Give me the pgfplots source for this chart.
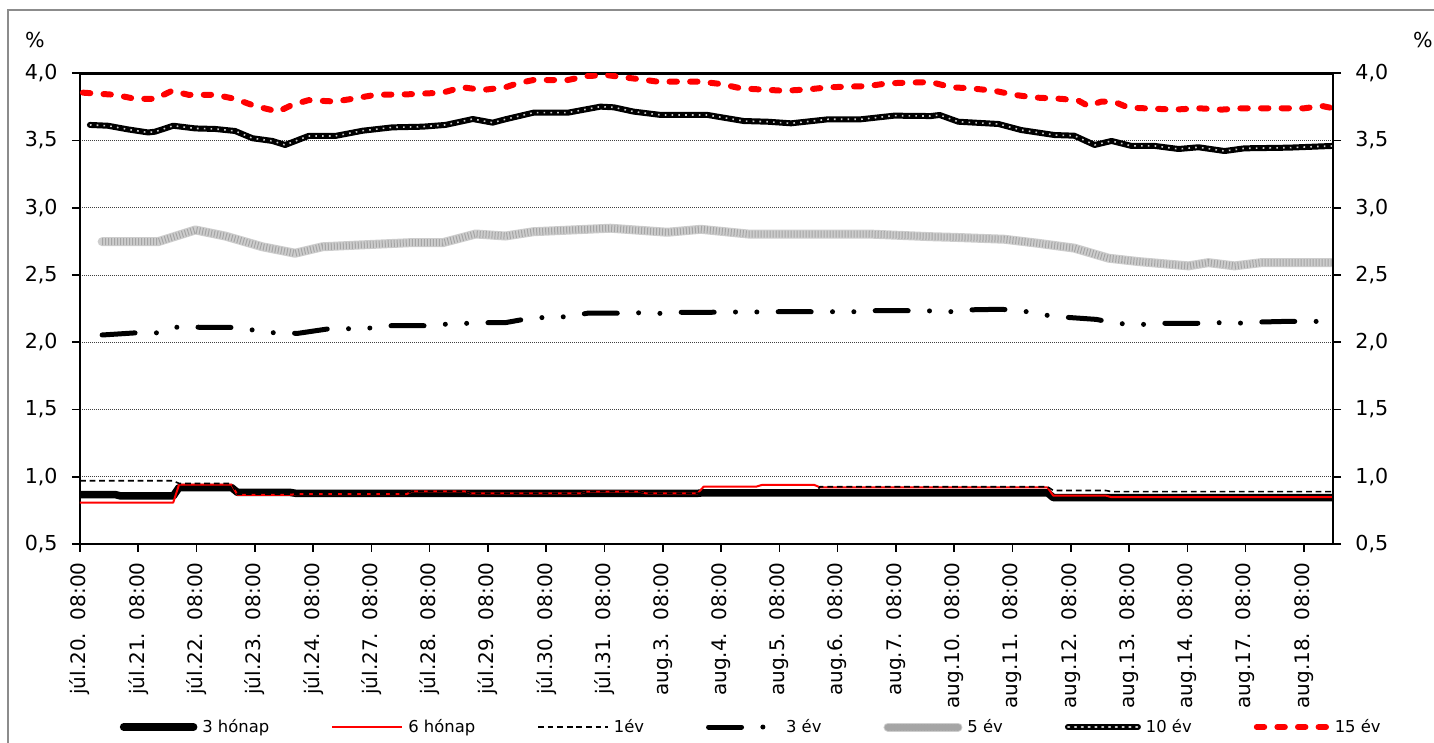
\documentclass[border=0pt]{standalone}
\usepackage{fontspec}
\setmainfont{DejaVu Sans}
\usepackage{pgfplots}
\pgfplotsset{compat=1.18}
\usepackage{pgfplotstable}

\definecolor{xred}{RGB}{255,0,0}
\definecolor{lgray}{RGB}{205,205,205}
\definecolor{mgray}{RGB}{165,165,165}
\definecolor{framegray}{RGB}{140,140,140}

% x: days from the first 08:00 tick (one unit = one trading day)
\pgfplotstableread{
x y
0 0.868
0.6 0.868
0.7 0.857
1.6 0.857
1.7 0.920
2.6 0.920
2.7 0.884
3.6 0.884
3.7 0.877
10.6 0.877
10.7 0.881
16.6 0.881
16.7 0.845
21.5 0.845
}\threem

\pgfplotstableread{
x y
0 0.808
1.6 0.808
1.7 0.942
2.6 0.942
2.7 0.866
3.6 0.866
3.7 0.870
5.6 0.870
5.7 0.892
6.6 0.892
6.7 0.877
8.6 0.877
8.7 0.890
9.6 0.890
9.7 0.877
10.6 0.877
10.7 0.926
11.6 0.926
11.7 0.939
12.6 0.939
12.7 0.921
16.6 0.921
16.7 0.860
17.6 0.860
17.7 0.848
21.5 0.848
}\sixm

\pgfplotstableread{
x y
0 0.970
1.6 0.970
1.7 0.950
2.6 0.950
2.7 0.870
3.6 0.870
3.7 0.872
5.6 0.872
5.7 0.892
6.6 0.892
6.7 0.877
8.6 0.877
8.7 0.890
9.6 0.890
9.7 0.877
10.6 0.877
10.7 0.880
12.6 0.880
12.7 0.926
16.6 0.926
16.7 0.898
17.6 0.898
17.7 0.889
21.5 0.889
}\oney

\pgfplotstableread{
x y
0.38 2.054
0.99 2.071
1.37 2.070
1.72 2.120
2.10 2.110
2.71 2.110
3.06 2.084
3.40 2.067
3.75 2.067
4.33 2.104
4.76 2.099
5.10 2.110
5.30 2.123
5.93 2.123
6.27 2.134
6.65 2.141
7.01 2.146
7.30 2.146
7.61 2.170
7.99 2.186
8.37 2.190
8.71 2.216
9.33 2.216
9.67 2.220
10.05 2.213
10.19 2.223
10.82 2.223
11.17 2.225
11.56 2.225
11.90 2.227
12.54 2.227
13.28 2.227
13.63 2.235
14.26 2.235
14.60 2.233
14.98 2.227
15.12 2.240
15.76 2.245
16.10 2.240
16.46 2.208
16.78 2.190
17.44 2.170
17.78 2.141
18.16 2.130
18.50 2.141
19.16 2.141
19.50 2.146
19.88 2.141
20.02 2.148
20.67 2.155
21.39 2.155
}\threey

\pgfplotstableread{
x y
0.38 2.748
1.34 2.748
1.98 2.835
2.49 2.790
3.13 2.710
3.69 2.662
4.16 2.710
4.78 2.723
5.64 2.740
6.22 2.740
6.79 2.805
7.30 2.790
7.78 2.822
9.10 2.848
10.08 2.818
10.65 2.840
11.46 2.805
13.52 2.805
14.60 2.785
15.00 2.780
15.86 2.766
16.44 2.736
17.06 2.700
17.65 2.625
18.16 2.600
19.02 2.568
19.36 2.592
19.81 2.568
20.27 2.592
21.50 2.592
}\fivey

\pgfplotstableread{
x y
0.17 3.616
0.48 3.610
0.82 3.583
1.17 3.560
1.29 3.566
1.60 3.610
1.98 3.590
2.32 3.586
2.66 3.571
2.96 3.517
3.30 3.497
3.52 3.467
3.92 3.534
4.38 3.534
4.85 3.573
5.36 3.598
5.88 3.603
6.27 3.616
6.74 3.660
7.08 3.633
7.30 3.658
7.78 3.707
8.37 3.707
8.93 3.752
9.16 3.747
9.50 3.715
9.97 3.690
10.77 3.690
11.39 3.645
11.80 3.640
12.20 3.628
12.84 3.658
13.40 3.658
13.97 3.685
14.60 3.682
14.75 3.690
15.07 3.640
15.76 3.623
16.15 3.578
16.72 3.541
17.06 3.536
17.41 3.467
17.70 3.497
18.04 3.460
18.44 3.460
18.85 3.437
19.19 3.450
19.64 3.422
19.98 3.442
20.74 3.447
21.50 3.460
}\teny

\pgfplotstableread{
x y
0.05 3.856
0.60 3.840
0.95 3.810
1.29 3.810
1.58 3.870
1.86 3.840
2.32 3.840
2.66 3.810
3.00 3.757
3.40 3.715
3.64 3.765
3.92 3.800
4.38 3.790
4.67 3.810
5.07 3.840
5.64 3.844
6.22 3.856
6.56 3.896
6.91 3.876
7.30 3.896
7.51 3.926
7.78 3.950
8.37 3.950
8.71 3.980
9.05 3.986
9.33 3.970
9.62 3.955
9.91 3.938
10.65 3.938
11.00 3.920
11.34 3.888
12.08 3.870
12.49 3.880
12.84 3.896
13.52 3.905
13.87 3.926
14.60 3.935
14.95 3.896
15.29 3.888
15.69 3.870
16.03 3.840
16.37 3.820
16.84 3.810
17.13 3.797
17.30 3.757
17.53 3.790
17.75 3.787
17.99 3.745
18.78 3.730
19.19 3.740
19.59 3.730
19.93 3.740
21.01 3.740
21.31 3.757
21.50 3.740
}\fifteeny

\pgfplotsset{
  chartbase/.style={
    scale only axis,
    width=626.5pt, height=235.35pt,
    at={(40pt,99.5pt)}, anchor=south west,
    xmin=0, xmax=21.5,
    ymin=0.5, ymax=4.0,
    ytick={0.5,1.0,...,4.0},
    /pgf/number format/.cd, use comma, fixed, fixed zerofill, precision=1,
    assume math mode=true, /pgfplots/.cd,
    tick align=outside,
    major tick length=4pt,
    tick style={black, line width=0.8pt},
    axis line style={black, line width=1.25pt},
    yticklabel style={inner xsep=0pt, font=\fontsize{10.3}{12}\selectfont},
  },
}

\begin{document}
\begin{tikzpicture}
\path[use as bounding box] (0,0) rectangle (717pt,371.5pt);
\draw[framegray, line width=0.75pt] (4pt,0) -- (4pt,366.5pt) -- (717pt,366.5pt);

\begin{axis}[
  chartbase,
  xtick={0,...,21},
  xticklabels={júl.20.\ \ 08:00, júl.21.\ \ 08:00, júl.22.\ \ 08:00,
    júl.23.\ \ 08:00, júl.24.\ \ 08:00, júl.27.\ \ 08:00, júl.28.\ \ 08:00,
    júl.29.\ \ 08:00, júl.30.\ \ 08:00, júl.31.\ \ 08:00, aug.3.\ \ 08:00,
    aug.4.\ \ 08:00, aug.5.\ \ 08:00, aug.6.\ \ 08:00, aug.7.\ \ 08:00,
    aug.10.\ \ 08:00, aug.11.\ \ 08:00, aug.12.\ \ 08:00, aug.13.\ \ 08:00,
    aug.14.\ \ 08:00, aug.17.\ \ 08:00, aug.18.\ \ 08:00},
  xticklabel style={rotate=90, anchor=east, inner sep=0pt,
    font=\fontsize{10}{12}\selectfont},
  xticklabel shift=5pt,
  yticklabel shift=7pt,
  xtick pos=bottom, ytick pos=left,
  ymajorgrids,
  major grid style={black!75, line width=0.5pt, dash pattern=on 0.5pt off 0.5pt},
  no markers,
  every axis plot/.append style={line join=round},
  legend image code/.code={\draw[#1] (0pt,0pt) -- (35pt,0pt);},
  legend columns=7,
  legend style={
    at={(0.0315,-0.3888)}, anchor=west, draw=none, fill=none,
    inner sep=0pt,
    font=\fontsize{8.2}{10}\selectfont,
    nodes={inner xsep=0pt, inner ysep=1pt},
    cells={anchor=west},
    /tikz/every odd column/.append style={column sep=2.5pt},
    /tikz/every even column/.append style={column sep=31pt},
  },
]
\addplot[black, line width=3.75pt, line cap=round] table[x=x,y=y] {\threem};
\addlegendentry{3 hónap}
\addplot[xred, line width=1pt] table[x=x,y=y] {\sixm};
\addlegendentry{6 hónap}
\addplot[black, line width=0.8pt, dash pattern=on 2.9pt off 1.9pt] table[x=x,y=y] {\oney};
\addlegendentry{1év}
\addplot[black, line width=2.5pt, line cap=round,
  dash pattern=on 16.5pt off 10.67pt on 0pt off 10.67pt on 0pt off 10.67pt] table[x=x,y=y] {\threey};
\addlegendentry{3 év}
\addplot[lgray, line width=4.5pt, line cap=round,
  legend image code/.code={
    \draw[lgray, line width=4.5pt, line cap=round] (0pt,0pt) -- (35pt,0pt);
    \draw[mgray, line width=3.5pt, dash pattern=on 0.5pt off 1pt] (0pt,0pt) -- (35pt,0pt);}]
  table[x=x,y=y] {\fivey};
\addlegendentry{5 év}
\addplot[mgray, line width=3.5pt, dash pattern=on 0.5pt off 1pt, forget plot] table[x=x,y=y] {\fivey};
\addplot[black, line width=3pt, line cap=round,
  legend image code/.code={
    \draw[black, line width=3pt, line cap=round] (0pt,0pt) -- (35pt,0pt);
    \draw[white!80!black, line width=0.8pt, dash pattern=on 0.8pt off 2.6pt] (0pt,0pt) -- (35pt,0pt);}]
  table[x=x,y=y] {\teny};
\addlegendentry{10 év}
\addplot[white!80!black, line width=0.8pt, dash pattern=on 0.8pt off 2.6pt, forget plot] table[x=x,y=y] {\teny};
\addplot[xred, line width=3pt, line cap=round, dash pattern=on 3.7pt off 6.6pt] table[x=x,y=y] {\fifteeny};
\addlegendentry{15 év}
\end{axis}

\begin{axis}[
  chartbase,
  axis x line=none,
  axis y line*=right,
  yticklabel pos=right,
  yticklabel style={anchor=west},
  yticklabel shift=7pt,
]
\end{axis}

\node[font=\fontsize{10.3}{12}\selectfont] at (17.5pt,351.5pt) {\%};
\node[font=\fontsize{10.3}{12}\selectfont] at (711.5pt,351.5pt) {\%};
\end{tikzpicture}
\end{document}
